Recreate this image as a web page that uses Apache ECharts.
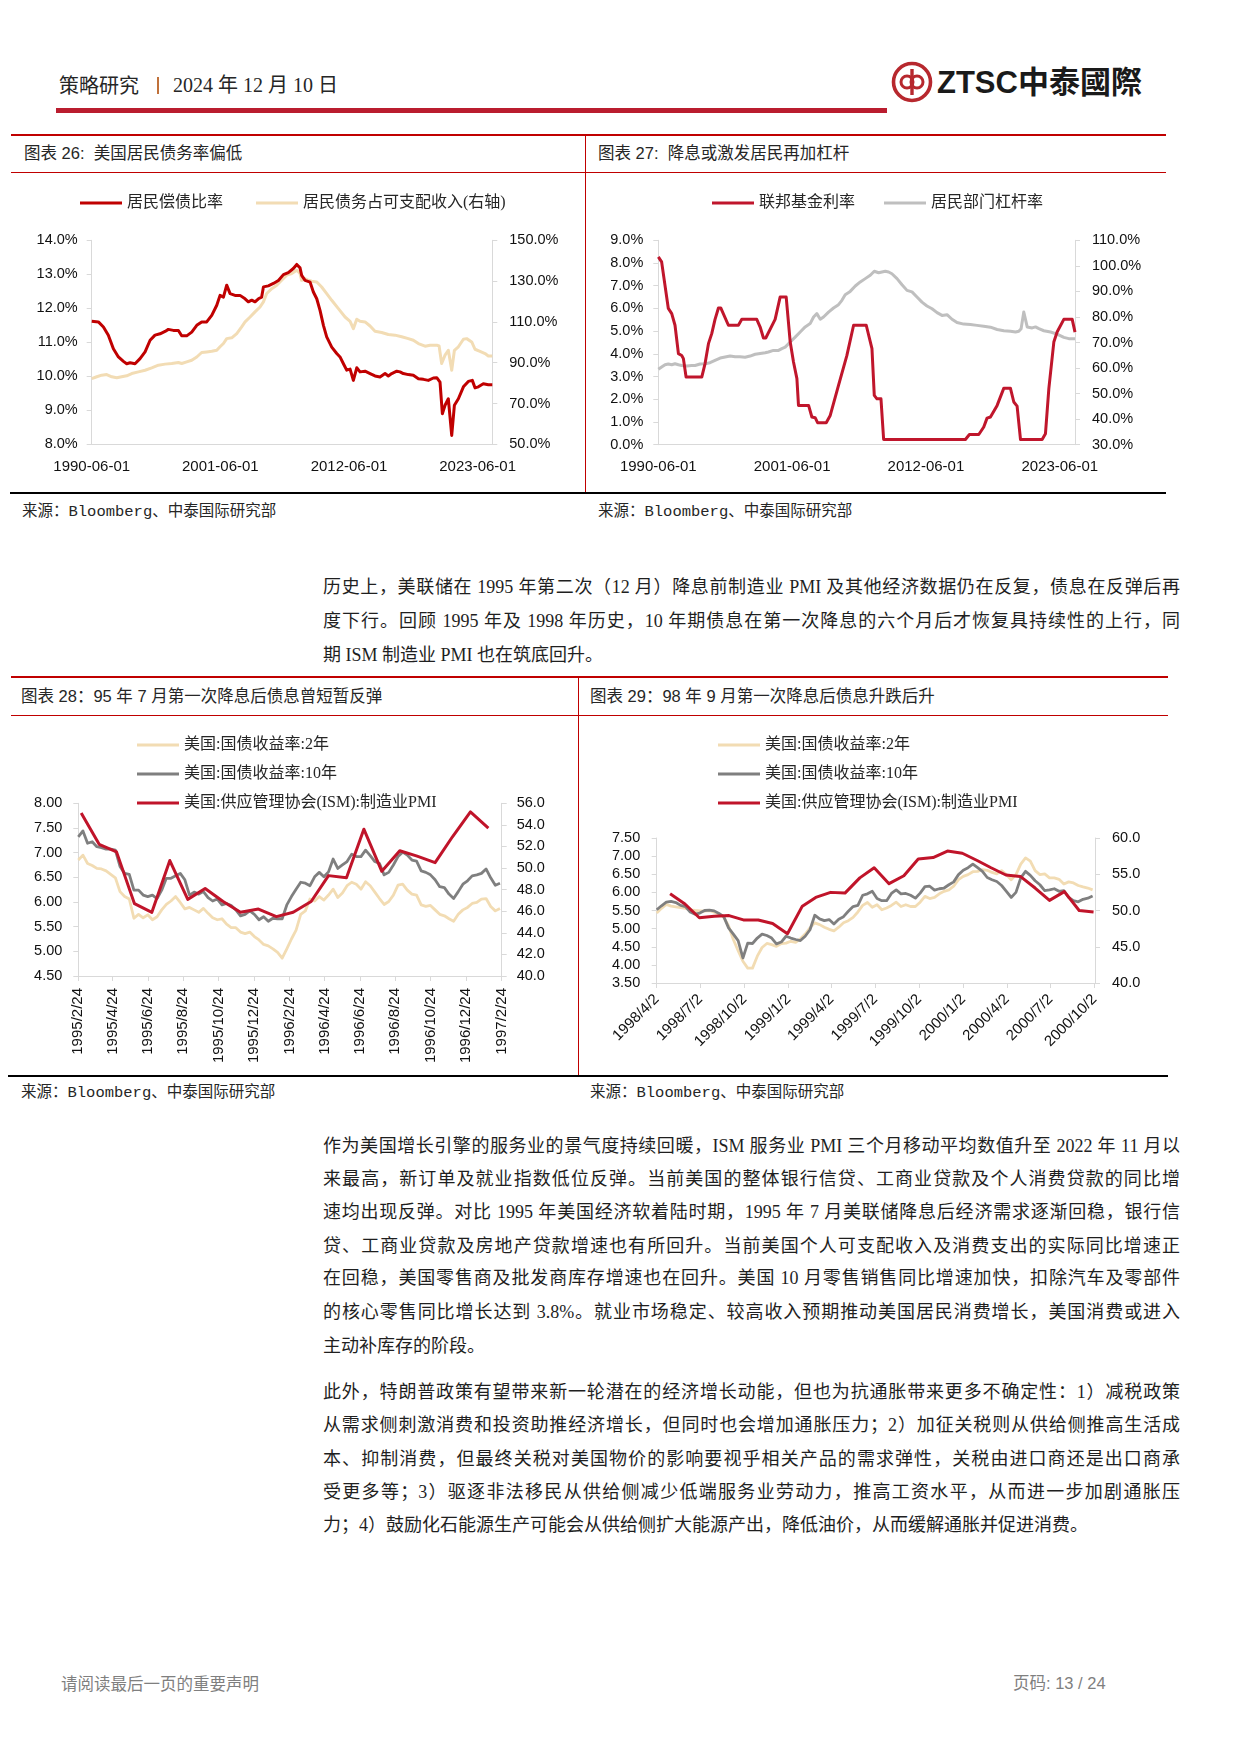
<!DOCTYPE html>
<html><head><meta charset="utf-8">
<script src="https://cdn.jsdelivr.net/npm/echarts@6.0.0/dist/echarts.min.js"></script>
<style>
body{margin:0;width:1240px;height:1754px;background:#fff;position:relative;overflow:hidden;color:#262626;font-family:"Liberation Serif","Noto Sans CJK SC",serif}
.a{position:absolute;white-space:nowrap}
.ln{position:absolute}
.p{position:absolute;left:323px;width:857px;height:24px;line-height:24px;font-size:18px;white-space:nowrap;text-align:justify;text-align-last:justify;color:#1f1f1f;font-family:"Liberation Serif","Noto Sans CJK SC",serif}
.p.last{text-align-last:left}
.ttl{position:absolute;white-space:nowrap;font-size:16.5px;line-height:22px;font-family:"Liberation Sans","Noto Sans CJK SC",sans-serif;color:#262626}
.src{position:absolute;white-space:nowrap;font-size:15.5px;line-height:22px;font-family:"Liberation Mono","Noto Sans CJK SC",monospace;color:#262626}
.ch{position:absolute}
</style></head><body>

<div class="a" style="left:59px;top:73px;font-size:20px;line-height:24px;font-family:'Noto Sans CJK SC'">策略研究</div>
<div class="ln" style="left:157px;top:77px;width:1.5px;height:17px;background:#C0713A"></div>
<div class="a" style="left:173px;top:73px;font-size:20px;line-height:24px">2024 年 12 月 10 日</div>
<div class="ln" style="left:56px;top:108px;width:831px;height:5px;background:#BA1D2F"></div>
<svg class="a" style="left:891px;top:61px" width="42" height="42" viewBox="0 0 42 42">
<circle cx="21" cy="21" r="18.5" fill="none" stroke="#B7282E" stroke-width="3.6"/>
<circle cx="16" cy="21" r="6" fill="none" stroke="#B7282E" stroke-width="3"/>
<circle cx="26" cy="21" r="6" fill="none" stroke="#B7282E" stroke-width="3"/>
<line x1="21" y1="8" x2="21" y2="34" stroke="#B7282E" stroke-width="3.4"/>
</svg>
<div class="a" style="left:937px;top:62px;font-size:31px;line-height:36px;font-weight:700;color:#1a1a1a;font-family:'Liberation Sans','Noto Sans CJK TC',sans-serif">ZTSC<span style="font-family:'Noto Sans CJK TC'">中泰國際</span></div>

<!-- section 1 frame -->
<div class="ln" style="left:11px;top:134px;width:1155px;height:2px;background:#C00000"></div>
<div class="ln" style="left:11px;top:172px;width:1155px;height:1px;background:#C00000"></div>
<div class="ln" style="left:585px;top:135px;width:1px;height:358px;background:#C00000"></div>
<div class="ln" style="left:10px;top:492px;width:1156px;height:2px;background:#000"></div>
<div class="ttl" style="left:24px;top:142px">图表 26:&nbsp; 美国居民债务率偏低</div>
<div class="ttl" style="left:598px;top:142px">图表 27:&nbsp; 降息或激发居民再加杠杆</div>
<div class="src" style="left:22px;top:501px">来源：Bloomberg、中泰国际研究部</div>
<div class="src" style="left:598px;top:501px">来源：Bloomberg、中泰国际研究部</div>
<div id="c26" class="ch" style="left:11px;top:172px;width:574px;height:321px"></div>
<div id="c27" class="ch" style="left:586px;top:172px;width:580px;height:321px"></div>

<div class="p" style="top:575px">历史上，美联储在 1995 年第二次（12 月）降息前制造业 PMI 及其他经济数据仍在反复，债息在反弹后再</div>
<div class="p" style="top:609px">度下行。回顾 1995 年及 1998 年历史，10 年期债息在第一次降息的六个月后才恢复具持续性的上行，同</div>
<div class="p last" style="top:643px">期 ISM 制造业 PMI 也在筑底回升。</div>

<!-- section 2 frame -->
<div class="ln" style="left:11px;top:676px;width:1157px;height:2px;background:#C00000"></div>
<div class="ln" style="left:11px;top:715px;width:1157px;height:1px;background:#C00000"></div>
<div class="ln" style="left:578px;top:677px;width:1px;height:399px;background:#C00000"></div>
<div class="ln" style="left:8px;top:1075px;width:1160px;height:2px;background:#000"></div>
<div class="ttl" style="left:21px;top:685px">图表 28：95 年 7 月第一次降息后债息曾短暂反弹</div>
<div class="ttl" style="left:590px;top:685px">图表 29：98 年 9 月第一次降息后债息升跌后升</div>
<div class="src" style="left:21px;top:1082px">来源：Bloomberg、中泰国际研究部</div>
<div class="src" style="left:590px;top:1082px">来源：Bloomberg、中泰国际研究部</div>
<div id="c28" class="ch" style="left:11px;top:716px;width:567px;height:360px"></div>
<div id="c29" class="ch" style="left:579px;top:716px;width:587px;height:359px"></div>

<div class="p" style="top:1134px">作为美国增长引擎的服务业的景气度持续回暖，ISM 服务业 PMI 三个月移动平均数值升至 2022 年 11 月以</div>
<div class="p" style="top:1167px">来最高，新订单及就业指数低位反弹。当前美国的整体银行信贷、工商业贷款及个人消费贷款的同比增</div>
<div class="p" style="top:1200px">速均出现反弹。对比 1995 年美国经济软着陆时期，1995 年 7 月美联储降息后经济需求逐渐回稳，银行信</div>
<div class="p" style="top:1234px">贷、工商业贷款及房地产贷款增速也有所回升。当前美国个人可支配收入及消费支出的实际同比增速正</div>
<div class="p" style="top:1266px">在回稳，美国零售商及批发商库存增速也在回升。美国 10 月零售销售同比增速加快，扣除汽车及零部件</div>
<div class="p" style="top:1300px">的核心零售同比增长达到 3.8%。就业市场稳定、较高收入预期推动美国居民消费增长，美国消费或进入</div>
<div class="p last" style="top:1334px">主动补库存的阶段。</div>

<div class="p" style="top:1380px">此外，特朗普政策有望带来新一轮潜在的经济增长动能，但也为抗通胀带来更多不确定性：1）减税政策</div>
<div class="p" style="top:1413px">从需求侧刺激消费和投资助推经济增长，但同时也会增加通胀压力；2）加征关税则从供给侧推高生活成</div>
<div class="p" style="top:1447px">本、抑制消费，但最终关税对美国物价的影响要视乎相关产品的需求弹性，关税由进口商还是出口商承</div>
<div class="p" style="top:1480px">受更多等；3）驱逐非法移民从供给侧减少低端服务业劳动力，推高工资水平，从而进一步加剧通胀压</div>
<div class="p last" style="top:1513px">力；4）鼓励化石能源生产可能会从供给侧扩大能源产出，降低油价，从而缓解通胀并促进消费。</div>

<div class="a" style="left:61px;top:1671px;font-size:16.5px;line-height:24px;color:#7f7f7f;font-family:'Noto Sans CJK SC'">请阅读最后一页的重要声明</div>
<div class="a" style="left:1013px;top:1671px;font-size:16.5px;line-height:24px;color:#7f7f7f;font-family:'Liberation Sans','Noto Sans CJK SC'">页码: 13 / 24</div>

<script>
// ---------- Chart 26 data ----------
const ticks26 = ['1990-06-01','2001-06-01','2012-06-01','2023-06-01'];
const dsrYear = [1990.42,1990.99,1991.42,1991.84,1992.27,1992.70,1993.13,1993.41,1993.70,1994.12,
1994.55,1994.98,1995.41,1995.83,1996.26,1996.69,1996.97,1997.40,1997.83,1998.11,
1998.54,1998.97,1999.40,1999.82,2000.25,2000.68,2001.11,2001.39,2001.68,2001.96,
2002.25,2002.67,2003.10,2003.53,2003.81,2004.10,2004.38,2004.67,2004.95,2005.10,
2005.52,2005.95,2006.38,2006.81,2007.23,2007.66,2007.95,2008.23,2008.37,2008.66,
2009.09,2009.37,2009.66,2009.94,2010.23,2010.51,2010.94,2011.37,2011.65,2011.94,
2012.22,2012.51,2012.79,2013.08,2013.36,2013.79,2014.22,2014.64,2015.07,2015.50,
2015.78,2016.07,2016.50,2016.78,2017.06,2017.49,2017.92,2018.35,2018.78,2019.20,
2019.63,2019.92,2020.20,2020.40,2020.63,2020.91,2021.20,2021.43,2021.77,2022.20,
2022.62,2022.96,2023.19,2023.48,2023.90,2024.33,2024.67];
const dsrVal = [11.62,11.60,11.45,11.21,10.81,10.57,10.44,10.37,10.40,10.37,
10.52,10.72,11.06,11.21,11.25,11.32,11.38,11.35,11.35,11.19,
11.19,11.30,11.50,11.60,11.60,11.79,12.09,12.38,12.33,12.68,
12.43,12.38,12.38,12.28,12.19,12.24,12.19,12.28,12.33,12.63,
12.66,12.73,12.82,12.99,13.05,13.17,13.29,13.19,12.97,12.82,
12.77,12.48,12.28,11.94,11.50,11.16,10.86,10.67,10.57,10.37,
10.18,10.21,9.88,10.25,10.13,10.15,10.08,10.01,9.98,10.08,
10.01,10.08,10.15,10.13,10.08,10.05,10.03,9.93,9.91,9.88,
9.95,9.96,9.83,8.90,9.15,9.34,8.26,9.15,9.34,9.69,
9.85,9.88,9.66,9.69,9.78,9.75,9.75];
const debtYear = [1990.42,1990.85,1991.27,1991.70,1992.13,1992.56,1992.98,1993.41,1993.84,1994.41,
1994.98,1995.55,1996.12,1996.69,1997.26,1997.83,1998.11,1998.54,1998.97,1999.40,
1999.82,2000.25,2000.68,2001.11,2001.39,2001.68,2001.96,2002.39,2002.82,2003.24,
2003.53,2003.96,2004.38,2004.81,2005.10,2005.38,2005.81,2006.24,2006.66,2007.09,
2007.52,2007.95,2008.23,2008.37,2008.66,2008.94,2009.23,2009.66,2010.08,2010.51,
2010.94,2011.51,2012.08,2012.51,2012.79,2013.08,2013.36,2013.79,2014.22,2014.64,
2015.21,2015.78,2016.35,2016.92,2017.49,2017.92,2018.35,2018.92,2019.35,2019.92,
2020.12,2020.34,2020.63,2020.91,2021.20,2021.43,2021.77,2022.20,2022.48,2022.91,
2023.19,2023.62,2024.05,2024.33,2024.67];
const debtVal = [82.2,83.1,83.9,84.2,83.1,82.6,83.1,83.6,84.7,85.5,
86.3,87.5,88.8,89.3,89.6,90.1,89.6,90.4,91.2,92.8,
95.0,95.3,95.6,96.1,97.8,99.4,101.8,102.2,104.3,107.6,
110.0,112.4,114.9,117.3,119.8,123.9,126.3,128.0,130.4,132.9,
133.7,135.3,133.7,130.4,131.2,130.4,129.9,129.6,127.1,123.9,
120.6,116.5,112.4,110.3,106.7,111.3,110.3,110.0,108.0,105.4,
104.8,103.8,103.5,102.7,101.8,101.0,99.4,98.1,98.6,98.6,
98.2,89.6,93.7,96.1,86.3,96.1,97.8,101.5,101.8,100.2,
96.6,95.6,94.5,93.3,93.3];

// ---------- Chart 27 data ----------
const ticks27 = ['1990-06-01','2001-06-01','2012-06-01','2023-06-01'];
const fedYear = [1990.42,1990.69,1991.24,1991.52,1991.79,1992.07,1992.34,1992.48,1992.70,1993.99,
1994.26,1994.54,1994.81,1995.08,1995.36,1995.55,1996.18,1997.00,1997.28,1998.51,
1998.79,1999.06,1999.25,2000.02,2000.43,2000.93,2001.26,2001.53,2001.81,2001.94,
2002.77,2003.04,2003.31,2003.51,2004.22,2004.55,2005.23,2005.92,2006.47,2007.51,
2007.98,2008.17,2008.39,2008.72,2008.94,2015.66,2015.99,2016.76,2017.17,2017.44,
2017.72,2018.27,2018.82,2019.36,2019.64,2019.91,2020.19,2021.97,2022.24,2022.52,
2022.93,2023.20,2023.75,2024.44,2024.67];
const fedVal = [8.27,8.05,6.00,5.77,5.26,4.01,3.93,3.79,2.98,2.98,
3.57,4.45,4.89,5.52,6.02,6.02,5.26,5.26,5.52,5.52,
5.18,4.70,4.70,5.52,6.50,6.50,4.52,3.64,2.91,1.73,
1.73,1.22,1.19,0.97,0.97,1.29,2.61,3.93,5.26,5.26,
4.23,2.17,2.02,2.02,0.23,0.23,0.45,0.45,0.78,1.17,
1.22,1.73,2.49,2.49,1.88,1.70,0.23,0.23,0.48,2.47,
4.52,4.96,5.52,5.52,4.96];
const levYear = [1990.42,1990.69,1990.97,1991.24,1991.52,1991.79,1992.07,1992.34,1992.75,1993.16,
1993.44,1993.85,1994.26,1994.67,1995.08,1995.50,1995.91,1996.32,1996.73,1997.14,
1997.55,1997.96,1998.38,1998.79,1999.20,1999.47,1999.88,2000.30,2000.57,2000.85,
2001.26,2001.67,2002.08,2002.49,2002.90,2003.18,2003.45,2003.73,2004.00,2004.41,
2004.82,2005.23,2005.51,2005.78,2006.19,2006.61,2007.02,2007.43,2007.84,2008.17,
2008.53,2008.80,2009.08,2009.35,2009.62,2010.04,2010.45,2010.86,2011.27,2011.68,
2012.09,2012.50,2012.92,2013.33,2013.74,2014.15,2014.56,2014.97,2015.52,2016.07,
2016.62,2017.17,2017.72,2018.27,2018.82,2019.36,2019.78,2020.05,2020.24,2020.46,
2020.74,2021.15,2021.42,2021.70,2022.11,2022.66,2023.20,2023.75,2024.16,2024.67];
const levVal = [59.5,60.4,61.3,61.6,61.3,61.7,61.3,61.0,60.8,61.0,
61.0,61.6,61.7,62.1,63.0,63.9,64.3,64.7,64.4,64.4,
64.2,64.7,65.4,65.7,66.0,66.3,66.9,66.9,67.6,68.2,
70.2,72.1,74.1,76.1,77.4,80.0,81.3,79.1,80.0,81.9,
83.5,84.8,86.5,88.7,90.0,92.1,93.7,95.0,96.3,97.9,
97.3,97.6,97.9,97.6,96.9,95.0,92.6,90.4,89.8,87.8,
85.8,84.3,83.2,81.7,80.6,80.9,79.1,77.8,77.2,77.0,
76.7,76.4,76.0,75.1,74.6,74.4,74.1,74.4,75.4,81.9,
76.1,75.7,76.1,75.4,74.6,74.1,73.3,72.0,71.5,71.5];

// ---------- Chart 28 data (yields sampled every 8 days from 1995-02-24; PMI monthly from 1995-03) ----------
const ticks28 = ['1995/2/24','1995/4/24','1995/6/24','1995/8/24','1995/10/24','1995/12/24','1996/2/24','1996/4/24','1996/6/24','1996/8/24','1996/10/24','1996/12/24','1997/2/24'];
const start28 = '1995/2/24', step28 = 8;
const y2_95 = [6.85,6.95,6.78,6.74,6.68,6.67,6.63,6.56,6.49,6.21,
6.11,6.06,5.67,5.75,5.68,5.74,5.64,5.70,5.84,5.95,
6.02,6.11,5.99,5.86,5.89,5.84,5.79,5.87,5.77,5.68,
5.64,5.66,5.55,5.48,5.48,5.39,5.36,5.39,5.30,5.23,
5.14,5.11,5.05,4.98,4.86,5.05,5.25,5.43,5.75,5.82,
6.06,6.02,6.11,6.04,6.14,6.26,6.09,6.18,6.33,6.40,
6.36,6.26,6.41,6.33,6.20,6.07,5.95,6.01,6.14,6.34,
6.36,6.24,6.16,6.14,5.94,5.91,5.93,5.84,5.75,5.72,
5.66,5.61,5.75,5.84,5.89,5.97,5.99,6.06,6.07,5.91,
5.82,5.87];
const y10_95 = [7.32,7.44,7.19,7.22,7.12,7.10,7.07,7.07,7.05,6.72,
6.58,6.56,6.24,6.24,6.14,6.11,6.14,6.07,6.24,6.48,
6.48,6.53,6.58,6.45,6.14,6.20,6.16,6.21,6.09,6.02,
6.06,5.94,5.97,5.93,5.84,5.72,5.75,5.82,5.75,5.64,
5.70,5.61,5.67,5.66,5.66,5.94,6.11,6.26,6.40,6.38,
6.33,6.51,6.60,6.51,6.61,6.87,6.68,6.75,6.82,6.97,
6.92,6.92,7.05,6.94,6.82,6.78,6.55,6.60,6.75,6.92,
7.01,6.95,6.85,6.83,6.63,6.60,6.55,6.45,6.31,6.29,
6.16,6.07,6.21,6.36,6.43,6.53,6.55,6.58,6.67,6.49,
6.34,6.38];
const pmiStart95 = [1995, 3];
const pmi95 = [55.1,52.2,51.5,46.7,45.9,50.7,47.1,48.1,46.9,45.9,46.2,45.5,
45.9,46.9,49.3,49.1,53.6,49.7,51.6,51.1,50.5,52.9,55.2,53.7];

// ---------- Chart 29 data (yields sampled every 10 days from 1998-04-02; PMI month-end from 1998-04) ----------
const ticks29 = ['1998/4/2','1998/7/2','1998/10/2','1999/1/2','1999/4/2','1999/7/2','1999/10/2','2000/1/2','2000/4/2','2000/7/2','2000/10/2'];
const start29 = '1998/4/2', step29 = 10;
const y2_98 = [5.43,5.56,5.67,5.62,5.60,5.58,5.56,5.52,5.50,5.49,
5.48,5.50,5.45,5.40,5.31,5.08,4.70,4.39,4.10,3.91,
3.91,4.24,4.48,4.59,4.56,4.51,4.59,4.60,4.65,4.62,
4.72,4.85,5.02,5.16,5.11,5.04,4.98,4.94,5.04,5.16,
5.22,5.31,5.46,5.64,5.72,5.59,5.66,5.52,5.57,5.64,
5.73,5.61,5.66,5.61,5.61,5.73,5.89,5.83,5.86,5.96,
6.03,6.07,6.17,6.35,6.44,6.49,6.57,6.58,6.63,6.61,
6.55,6.51,6.60,6.49,6.35,6.49,6.78,6.95,6.86,6.60,
6.49,6.51,6.40,6.40,6.36,6.23,6.29,6.26,6.19,6.15,
6.12,6.07];
const y10_98 = [5.52,5.63,5.73,5.75,5.72,5.64,5.61,5.46,5.40,5.43,
5.50,5.51,5.49,5.42,5.33,5.02,4.85,4.67,4.19,4.60,
4.59,4.74,4.85,4.81,4.74,4.58,4.63,4.79,4.74,4.70,
4.67,4.79,4.97,5.37,5.27,5.22,5.25,5.13,5.26,5.33,
5.48,5.61,5.64,5.92,5.96,6.03,5.83,5.77,5.77,5.97,
6.07,5.96,5.97,5.92,5.84,5.98,6.16,6.17,6.06,6.10,
6.12,6.21,6.29,6.49,6.61,6.68,6.78,6.68,6.58,6.41,
6.35,6.30,6.19,6.03,5.86,6.00,6.40,6.58,6.47,6.32,
6.21,6.05,6.07,6.10,6.03,6.05,5.86,5.77,5.74,5.81,
5.84,5.90];
const pmiStart98 = [1998, 4];
const pmi98 = [52.3,50.9,49.0,49.2,49.3,48.7,48.7,48.2,46.8,50.6,
51.8,52.5,52.4,54.5,55.9,53.7,54.8,57.1,57.3,58.2,
57.9,56.9,55.9,54.9,54.7,53.1,51.4,52.6,50.0,49.8];

// ---------- helpers ----------
const DAY = 86400000;
const parseD = s => { const p = s.split(/[\/-]/).map(Number); return Date.UTC(p[0], p[1]-1, p[2]); };
const decYear = s => { const p = s.split(/[\/-]/).map(Number); return p[0] + (p[1]-1)/12 + (p[2]-1)/365; };
const zip = (xs, ys) => xs.map((x, i) => [x, ys[i]]);
const NUMF = '"Liberation Sans", Arial, sans-serif';
const CJKF = '"Liberation Serif", "Noto Sans CJK SC", serif';
const AX = '#D9D9D9';
const LBL = '#111111';

function leg(name, left, top) {
  return {data:[name], left, top, padding:0, icon:'rect', itemWidth:42, itemHeight:3, itemGap:0,
    selectedMode:false, textStyle:{fontSize:16, color:'#262626', fontFamily:CJKF}};
}
function vAxis(min, max, interval, dec, suffix, pos, margin) {
  return {type:'value', min, max, interval, position:pos,
    axisLine:{show:true, lineStyle:{color:AX, width:1}},
    axisTick:{show:true, length:5, lineStyle:{color:AX}},
    splitLine:{show:false},
    axisLabel:{formatter: v => v.toFixed(dec) + suffix, margin, fontSize:14.5, color:LBL, fontFamily:NUMF}};
}
function lineS(name, data, color, width, yIdx, z) {
  return {name, type:'line', data, yAxisIndex:yIdx, symbol:'none', z,
    lineStyle:{color, width, join:'round'}, itemStyle:{color}};
}

// ---------- Chart 26 ----------
(function(){
  const tv = ticks26.map(decYear);
  const c = echarts.init(document.getElementById('c26'));
  c.setOption({
    animation:false,
    grid:{left:80.7, top:68.3, width:400.6, height:204},
    legend:[leg('居民偿债比率', 69, 23), leg('居民债务占可支配收入(右轴)', 245, 23)],
    xAxis:{type:'value', min:tv[0], max:2024.67,
      axisLine:{onZero:false, lineStyle:{color:AX}}, axisTick:{show:false}, splitLine:{show:false},
      axisLabel:{customValues:tv, formatter: v => ticks26[tv.findIndex(t => Math.abs(t - v) < 1e-6)] || '',
        margin:15, fontSize:15, color:LBL, fontFamily:NUMF}},
    yAxis:[vAxis(8, 14, 1, 1, '%', 'left', 14), vAxis(50, 150, 20, 1, '%', 'right', 17)],
    series:[
      lineS('居民债务占可支配收入(右轴)', zip(debtYear, debtVal), '#F2DCB4', 3, 1, 2),
      lineS('居民偿债比率', zip(dsrYear, dsrVal), '#C00000', 3, 0, 3)
    ]
  });
})();

// ---------- Chart 27 ----------
(function(){
  const tv = ticks27.map(decYear);
  const c = echarts.init(document.getElementById('c27'));
  c.setOption({
    animation:false,
    grid:{left:72.3, top:68.3, width:416.7, height:204.4},
    legend:[leg('联邦基金利率', 126, 23), leg('居民部门杠杆率', 298, 23)],
    xAxis:{type:'value', min:tv[0], max:2024.67,
      axisLine:{onZero:false, lineStyle:{color:AX}}, axisTick:{show:false}, splitLine:{show:false},
      axisLabel:{customValues:tv, formatter: v => ticks27[tv.findIndex(t => Math.abs(t - v) < 1e-6)] || '',
        margin:15, fontSize:15, color:LBL, fontFamily:NUMF}},
    yAxis:[vAxis(0, 9, 1, 1, '%', 'left', 15), vAxis(30, 110, 10, 1, '%', 'right', 17)],
    series:[
      lineS('居民部门杠杆率', zip(levYear, levVal), '#BFBFBF', 3, 1, 2),
      lineS('联邦基金利率', zip(fedYear, fedVal), '#C0162C', 3, 0, 3)
    ]
  });
})();

// ---------- Charts 28 / 29 ----------
function yieldChart(id, ticks, start, step, y2, y10, pmiStart, pmi, pmiEnd, cfg) {
  const t0 = parseD(start);
  const tv = ticks.map(s => (parseD(s) - t0) / DAY);
  const x = i => i * step;
  const pmiX = pmi.map((v, i) => {
    const ts = pmiEnd ? Date.UTC(pmiStart[0], pmiStart[1] + i, 0) : Date.UTC(pmiStart[0], pmiStart[1] - 1 + i, 1);
    return (ts - t0) / DAY;
  });
  const n2 = '美国:国债收益率:2年', n10 = '美国:国债收益率:10年', np = '美国:供应管理协会(ISM):制造业PMI';
  const c = echarts.init(document.getElementById(id));
  c.setOption({
    animation:false,
    grid:cfg.grid,
    legend:[leg(n2, cfg.legX, 21), leg(n10, cfg.legX, 50), leg(np, cfg.legX, 79)],
    xAxis:{type:'value', min:0, max:cfg.xmax,
      axisLine:{onZero:false, lineStyle:{color:AX}},
      axisTick:{show:true, customValues:tv, length:5, lineStyle:{color:AX}},
      splitLine:{show:false},
      axisLabel:{customValues:tv, rotate:cfg.rot, margin:cfg.xm,
        formatter: v => ticks[tv.findIndex(t => Math.abs(t - v) < 1e-6)] || '',
        fontSize:15, color:LBL, fontFamily:NUMF}},
    yAxis:[vAxis(cfg.l[0], cfg.l[1], cfg.l[2], 2, '', 'left', cfg.lm), vAxis(cfg.r[0], cfg.r[1], cfg.r[2], 1, '', 'right', cfg.rm)],
    series:[
      lineS(n2, y2.map((v, i) => [x(i), v]), '#F2DCB3', 2.8, 0, 2),
      lineS(n10, y10.map((v, i) => [x(i), v]), '#7F7F7F', 2.8, 0, 3),
      lineS(np, pmi.map((v, i) => [pmiX[i], v]), '#C0142A', 3, 1, 4)
    ]
  });
}
yieldChart('c28', ticks28, start28, step28, y2_95, y10_95, pmiStart95, pmi95, false,
  {grid:{left:67.3, top:87.3, width:423.4, height:172.7}, legX:126, xmax:731, rot:90, xm:12,
   l:[4.5, 8, 0.5], r:[40, 56, 2], lm:16, rm:15});
yieldChart('c29', ticks29, start29, step29, y2_98, y10_98, pmiStart98, pmi98, true,
  {grid:{left:77.7, top:122, width:438.3, height:145}, legX:139, xmax:915, rot:45, xm:14,
   l:[3.5, 7.5, 0.5], r:[40, 60, 5], lm:16.5, rm:17});
</script>
</body></html>
